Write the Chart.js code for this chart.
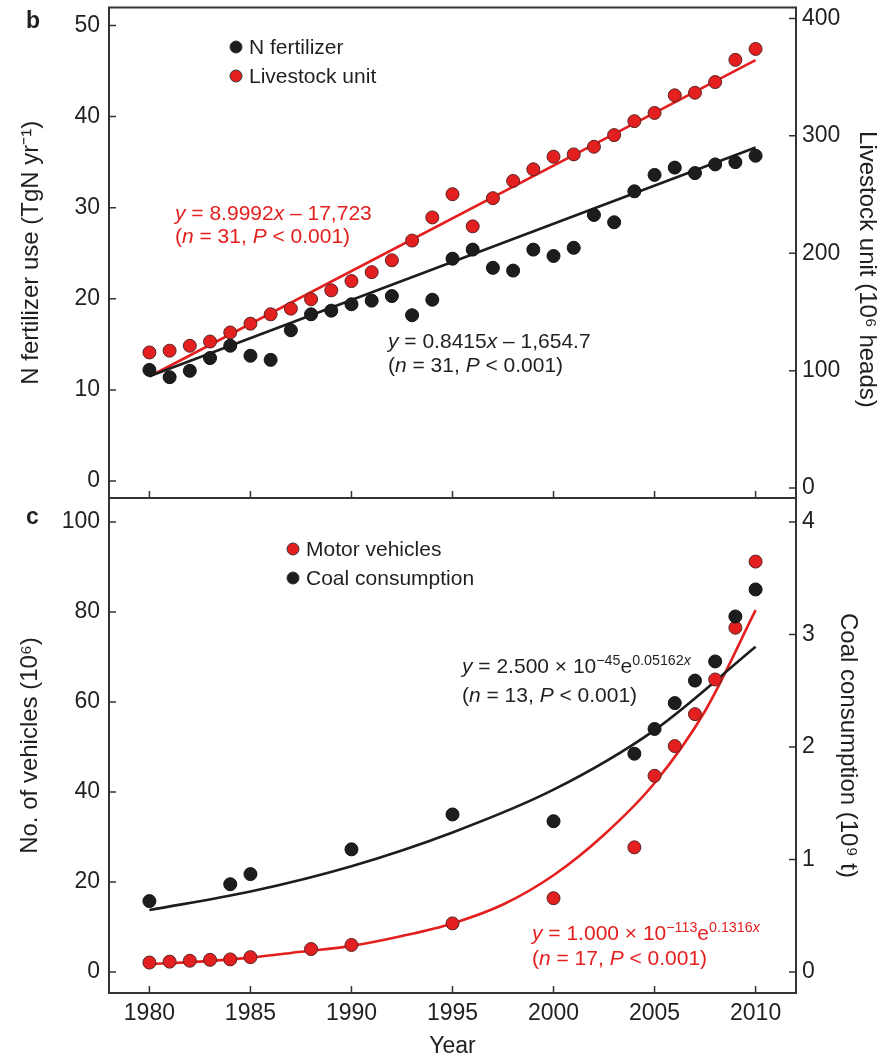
<!DOCTYPE html>
<html>
<head>
<meta charset="utf-8">
<script src="https://cdn.jsdelivr.net/npm/chart.js@4.4.1/dist/chart.umd.min.js"></script>
<style>
  html, body { margin: 0; padding: 0; background: #fff; }
  #wrap { position: relative; width: 895px; height: 1058px; }
  #wrap canvas { position: absolute; left: 0; top: 0; }
</style>
</head>
<body>
<div id="wrap">
  <canvas id="panelB" width="895" height="1058"></canvas>
  <canvas id="panelC" width="895" height="1058"></canvas>
</div>
<script>
// panel b: N fertilizer (left axis) and livestock (right axis), one point per year
const fertYears = [1980, 1981, 1982, 1983, 1984, 1985, 1986, 1987, 1988, 1989, 1990,
  1991, 1992, 1993, 1994, 1995, 1996, 1997, 1998, 1999, 2000,
  2001, 2002, 2003, 2004, 2005, 2006, 2007, 2008, 2009, 2010];
const fertValues = [12.2, 11.4, 12.1, 13.5, 14.85, 13.75, 13.3, 16.55, 18.3, 18.7, 19.4,
  19.8, 20.3, 18.2, 19.9, 24.4, 25.4, 23.4, 23.1, 25.4, 24.7,
  25.6, 29.2, 28.4, 31.8, 33.6, 34.4, 33.8, 34.75, 35.0, 35.7];
const livestockValues = [115.5, 117, 121.2, 124.8, 132.5, 140, 148, 152.8, 160.8, 168.4, 176.3,
  183.9, 194, 210.8, 230.5, 250.3, 222.9, 246.9, 261.6, 271.5, 282.2,
  284.2, 290.7, 300.6, 312.5, 319.5, 334.5, 336.7, 345.8, 364.7, 374];
// fitted lines, end points
const linFitYears = [1980, 2010];
const fertFit = [11.5, 36.6];
const livestockFit = [95, 364.5];

// panel c: motor vehicles (left axis) and coal consumption (right axis)
const vehicleYears = [1980, 1981, 1982, 1983, 1984, 1985, 1988, 1990, 1995, 2000,
  2004, 2005, 2006, 2007, 2008, 2009, 2010];
const vehicleValues = [2.1, 2.3, 2.5, 2.7, 2.8, 3.3, 5.1, 6.0, 10.8, 16.4,
  27.7, 43.6, 50.2, 57.3, 65.0, 76.5, 91.2];
const coalYears = [1980, 1984, 1985, 1990, 1995, 2000, 2004, 2005, 2006, 2007, 2008, 2009, 2010];
const coalValues = [0.63, 0.78, 0.87, 1.09, 1.40, 1.34, 1.94, 2.16, 2.39, 2.59, 2.76, 3.16, 3.40];
// fitted curves
const vehicleFitYears = [1980, 1982.5, 1985, 1987.5, 1990, 1992.5, 1995, 1997.5, 2000, 2002.5, 2005, 2007.5, 2010];
const vehicleFit = [1.8, 2.3, 3.2, 4.5, 5.8, 8.0, 10.8, 15.0, 21.5, 30.5, 42, 58, 80.4];
const coalFitYears = [1980, 1985, 1990, 1995, 2000, 2005, 2010];
const coalFit = [0.55, 0.715, 0.94, 1.24, 1.62, 2.15, 2.89];

// tick labels
const yearTicks = [1980, 1985, 1990, 1995, 2000, 2005, 2010];
const fertTicks = [0, 10, 20, 30, 40, 50];
const livestockTicks = [0, 100, 200, 300, 400];
const vehicleTicks = [0, 20, 40, 60, 80, 100];
const coalTicks = [0, 1, 2, 3, 4];

const FONT = "'Liberation Sans', Arial, Helvetica, sans-serif";
const INK = '#231f20';
const RED = '#e3201f';
const BLACK = '#1d1d1d';

Chart.defaults.font.family = FONT;
Chart.defaults.color = INK;

function pts(xs, ys) {
  return xs.map((x, i) => ({ x: x, y: ys[i] }));
}
function fixTicks(arr) {
  return s => { s.ticks = arr.map(v => ({ value: v })); };
}

// rich text: italics and superscripts for the regression equations
function drawRich(ctx, x, y, parts, size, color) {
  ctx.save();
  ctx.fillStyle = color;
  ctx.textBaseline = 'alphabetic';
  ctx.textAlign = 'left';
  let cx = x;
  parts.forEach(p => {
    const fs = p.sup ? size * 0.68 : size;
    ctx.font = (p.it ? 'italic ' : '') + fs + 'px ' + FONT;
    ctx.fillText(p.t, cx, y - (p.sup ? size * 0.4 : 0));
    cx += ctx.measureText(p.t).width;
  });
  ctx.restore();
}

function legendItem(ctx, x, y, color, text) {
  ctx.save();
  ctx.beginPath();
  ctx.arc(x, y, 6, 0, Math.PI * 2);
  ctx.fillStyle = color;
  ctx.fill();
  ctx.lineWidth = 1;
  ctx.strokeStyle = '#333';
  ctx.stroke();
  ctx.fillStyle = INK;
  ctx.font = '21px ' + FONT;
  ctx.textBaseline = 'middle';
  ctx.fillText(text, x + 13, y + 1);
  ctx.restore();
}

// frame round the plot and inward tick marks
function framePlugin(extra) {
  return {
    id: 'frame',
    afterDraw(chart) {
      const ctx = chart.ctx;
      const a = chart.chartArea;
      const sx = chart.scales.x, yl = chart.scales.y, yr = chart.scales.y1;
      ctx.save();
      ctx.strokeStyle = '#333';
      ctx.lineWidth = 2;
      ctx.strokeRect(a.left, a.top, a.right - a.left, a.bottom - a.top);
      ctx.lineWidth = 1.5;
      ctx.beginPath();
      yl.ticks.forEach(t => {
        const py = yl.getPixelForValue(t.value);
        ctx.moveTo(a.left, py); ctx.lineTo(a.left + 7, py);
      });
      yr.ticks.forEach(t => {
        const py = yr.getPixelForValue(t.value);
        ctx.moveTo(a.right - 7, py); ctx.lineTo(a.right, py);
      });
      yearTicks.forEach(v => {
        const px = sx.getPixelForValue(v);
        ctx.moveTo(px, a.bottom); ctx.lineTo(px, a.bottom - 7);
      });
      ctx.stroke();
      ctx.restore();
      extra(ctx, chart);
    }
  };
}

function noPad(s) {
  s.paddingTop = 0; s.paddingBottom = 0; s.paddingLeft = 0; s.paddingRight = 0;
}

function baseScales(o) {
  return {
    x: {
      type: 'linear', min: 1978, max: 2012,
      grid: { display: false, drawTicks: false }, border: { display: false },
      afterBuildTicks: fixTicks(yearTicks),
      ticks: o.xTicks,
      title: o.xTitle,
      afterFit: s => { s.height = o.xHeight; noPad(s); }
    },
    y: {
      position: 'left', min: o.lmin, max: o.lmax,
      grid: { display: false, drawTicks: false }, border: { display: false },
      afterBuildTicks: fixTicks(o.lticks),
      afterFit: s => { s.width = 109; noPad(s); },
      ticks: { font: { size: 23 }, padding: 9, color: INK, callback: v => String(v) },
      title: { display: true, text: o.ltitle, font: { size: 24 }, color: INK, padding: { top: o.lpad } }
    },
    y1: {
      position: 'right', min: o.rmin, max: o.rmax,
      grid: { display: false, drawTicks: false }, border: { display: false },
      afterBuildTicks: fixTicks(o.rticks),
      afterFit: s => { s.width = 99; noPad(s); },
      ticks: { font: { size: 23 }, padding: 6, color: INK, callback: v => String(v) },
      title: { display: true, text: o.rtitle, font: { size: 24 }, color: INK, padding: { top: o.rpad } }
    }
  };
}

function dots(label, xs, ys, axis, color) {
  return {
    label: label, data: pts(xs, ys), yAxisID: axis,
    backgroundColor: color, borderColor: color === RED ? '#5a2222' : '#111',
    borderWidth: 1, pointRadius: 6.5, order: 0
  };
}
function fitLine(xs, ys, axis, color) {
  return {
    type: 'line', data: pts(xs, ys), yAxisID: axis,
    borderColor: color, borderWidth: 2.6, pointRadius: 0, fill: false,
    cubicInterpolationMode: 'monotone', order: 1
  };
}

const common = {
  responsive: false,
  animation: false,
  events: [],
  plugins: { legend: { display: false }, tooltip: { enabled: false } }
};

// ---- panel b ----
new Chart(document.getElementById('panelB'), {
  type: 'scatter',
  data: {
    datasets: [
      dots('N fertilizer', fertYears, fertValues, 'y', BLACK),
      dots('Livestock unit', fertYears, livestockValues, 'y1', RED),
      fitLine(linFitYears, fertFit, 'y', BLACK),
      fitLine(linFitYears, livestockFit, 'y1', RED)
    ]
  },
  options: Object.assign({}, common, {
    layout: { padding: { top: 5, bottom: 560, left: 0, right: 0 } },
    scales: baseScales({
      xTicks: { display: false }, xTitle: { display: false }, xHeight: 0,
      lmin: -1.86, lmax: 51.97, lticks: fertTicks, lpad: 16.5,
      ltitle: 'N fertilizer use (TgN yr\u207B\u00B9)',
      rmin: -8.47, rmax: 409.3, rticks: livestockTicks, rpad: 13.5,
      rtitle: '     Livestock unit (10\u2076 heads)'
    })
  }),
  plugins: [framePlugin((ctx) => {
    ctx.save();
    ctx.fillStyle = INK;
    ctx.font = 'bold 23px ' + FONT;
    ctx.fillText('b', 26, 28);
    ctx.restore();
    legendItem(ctx, 236, 47, BLACK, 'N fertilizer');
    legendItem(ctx, 236, 76, RED, 'Livestock unit');
    drawRich(ctx, 175, 220, [
      { t: 'y', it: true }, { t: ' = 8.9992' }, { t: 'x', it: true }, { t: ' \u2013 17,723' }
    ], 21, RED);
    drawRich(ctx, 175, 243, [
      { t: '(' }, { t: 'n', it: true }, { t: ' = 31, ' }, { t: 'P', it: true }, { t: ' < 0.001)' }
    ], 21, RED);
    drawRich(ctx, 388, 348, [
      { t: 'y', it: true }, { t: ' = 0.8415' }, { t: 'x', it: true }, { t: ' \u2013 1,654.7' }
    ], 21, INK);
    drawRich(ctx, 388, 372, [
      { t: '(' }, { t: 'n', it: true }, { t: ' = 31, ' }, { t: 'P', it: true }, { t: ' < 0.001)' }
    ], 21, INK);
  })]
});

// ---- panel c ----
new Chart(document.getElementById('panelC'), {
  type: 'scatter',
  data: {
    datasets: [
      dots('Coal consumption', coalYears, coalValues, 'y1', BLACK),
      dots('Motor vehicles', vehicleYears, vehicleValues, 'y', RED),
      fitLine(coalFitYears, coalFit, 'y1', BLACK),
      fitLine(vehicleFitYears, vehicleFit, 'y', RED)
    ]
  },
  options: Object.assign({}, common, {
    layout: { padding: { top: 498, bottom: 0, left: 0, right: 0 } },
    scales: baseScales({
      xTicks: { font: { size: 23 }, padding: 7, color: INK, callback: v => String(v) },
      xTitle: { display: true, text: 'Year', font: { size: 23, lineHeight: 1 }, color: INK, padding: { top: 0, bottom: 0 } },
      xHeight: 65,
      lmin: -4.67, lmax: 105.33, lticks: vehicleTicks, lpad: 15.5,
      ltitle: 'No. of vehicles (10\u2076)',
      rmin: -0.187, rmax: 4.213, rticks: coalTicks, rpad: 33,
      rtitle: 'Coal consumption (10\u2079 t)'
    })
  }),
  plugins: [framePlugin((ctx) => {
    ctx.save();
    ctx.fillStyle = INK;
    ctx.font = 'bold 23px ' + FONT;
    ctx.fillText('c', 26, 524);
    ctx.restore();
    legendItem(ctx, 293, 549, RED, 'Motor vehicles');
    legendItem(ctx, 293, 578, BLACK, 'Coal consumption');
    drawRich(ctx, 462, 673, [
      { t: 'y', it: true }, { t: ' = 2.500 \u00D7 10' }, { t: '\u221245', sup: true },
      { t: 'e' }, { t: '0.05162', sup: true }, { t: 'x', sup: true, it: true }
    ], 21, INK);
    drawRich(ctx, 462, 702, [
      { t: '(' }, { t: 'n', it: true }, { t: ' = 13, ' }, { t: 'P', it: true }, { t: ' < 0.001)' }
    ], 21, INK);
    drawRich(ctx, 532, 940, [
      { t: 'y', it: true }, { t: ' = 1.000 \u00D7 10' }, { t: '\u2212113', sup: true },
      { t: 'e' }, { t: '0.1316', sup: true }, { t: 'x', sup: true, it: true }
    ], 21, RED);
    drawRich(ctx, 532, 965, [
      { t: '(' }, { t: 'n', it: true }, { t: ' = 17, ' }, { t: 'P', it: true }, { t: ' < 0.001)' }
    ], 21, RED);
  })]
});
</script>
</body>
</html>
